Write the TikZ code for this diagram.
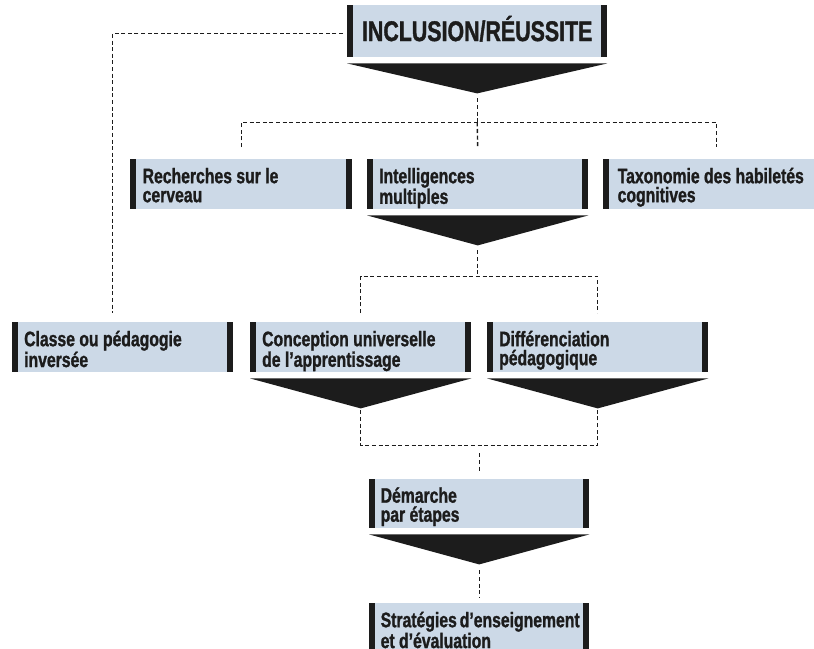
\documentclass[tikz,border=0pt]{standalone}
\usepackage{fontspec}
\setmainfont[FakeStretch=0.75, BoldFeatures={FakeBold=1.2}]{Liberation Sans}
\definecolor{bleu}{RGB}{204,217,231}
\definecolor{noir}{RGB}{28,28,28}

\begin{document}
\begin{tikzpicture}[x=1pt,y=-1pt]
  \tikzset{
    bloc/.style={anchor=north west, fill=bleu, inner sep=0pt, minimum width=221pt,
      minimum height=50pt, text width=197pt, align=flush left, text height=15pt, text depth=17pt,
      text=noir, font=\fontsize{21}{19}\selectfont\bfseries,
      path picture={
        \fill[noir] (path picture bounding box.north west) rectangle ([xshift=6pt]path picture bounding box.south west);
        \fill[noir] (path picture bounding box.north east) rectangle ([xshift=-6pt]path picture bounding box.south east);
      }},
    lien/.style={line width=1.4pt, noir, dash pattern=on 4pt off 2.6pt},
    pointe/.style={fill=noir}
  }
  \useasboundingbox (0,0) rectangle (814,648);
  \clip (0,0) rectangle (814,648);

  % Blocs
  \node[bloc, minimum width=260pt, minimum height=52pt, text width=, text height=19.7pt, text depth=0pt,
    font=\fontsize{28.5}{28}\selectfont\bfseries] (titre) at (347,5) {INCLUSION/RÉUSSITE};
  \node[bloc, minimum width=222pt] (recherches) at (130,159) {Recherches sur le\\cerveau};
  \node[bloc] (intel) at (367,159) {Intelligences\\multiples};
  \node[bloc, minimum width=226pt] (taxonomie) at (603,159) {Taxonomie des habiletés\\cognitives};
  \node[bloc] (classe) at (12,322) {Classe ou pédagogie\\inversée};
  \node[bloc] (conception) at (250,322) {Conception universelle\\de l’apprentissage};
  \node[bloc] (diff) at (487,322) {Différenciation\\pédagogique};
  \node[bloc, minimum width=220pt, minimum height=49pt] (demarche) at (369,479) {Démarche\\par étapes};
  \node[bloc, minimum width=220pt] (strategies) at (369,603) {Stratégies~d’enseignement\\et d’évaluation};

  % Pointes sous les blocs
  \foreach \n in {titre,intel,conception,diff,demarche}
    \fill[pointe] ([yshift=-6pt]\n.south west) -- ([yshift=-6pt]\n.south east)
      -- ([yshift=-36pt]\n.south) coordinate (\n-pointe) -- cycle;

  % Liens en pointillé
  \draw[lien] ([yshift=-5pt]titre-pointe) -- ++(0,24) coordinate (bus1);
  \draw[lien] ([yshift=12pt]recherches.north) |- (bus1) -| ([yshift=12pt]taxonomie.north);
  \draw[lien] (bus1) -- ([yshift=12pt]intel.north);
  \draw[lien] ([xshift=-4pt,yshift=-2pt]titre.west) -| ([xshift=-10pt,yshift=9pt]classe.north);

  \draw[lien] ([yshift=-5pt]intel-pointe) -- ++(0,26) coordinate (bus2);
  \draw[lien] ([yshift=9pt]conception.north) |- (bus2) -| ([yshift=9pt]diff.north);

  \draw[lien] ([yshift=-2pt]conception-pointe) -- ++(0,35) coordinate (bus3) -| ([yshift=-2pt]diff-pointe);
  \draw[lien] ([yshift=-8pt]bus3 -| demarche.north) -- ([yshift=7pt]demarche.north);
  \draw[lien] ([yshift=-6pt]demarche-pointe) -- ([yshift=5pt]strategies.north);

\end{tikzpicture}
\end{document}
